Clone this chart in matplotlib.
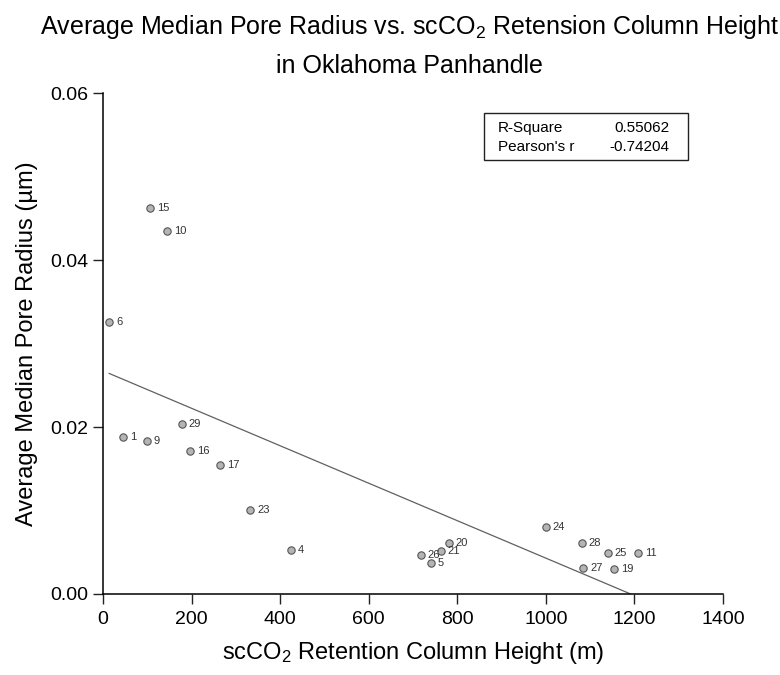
import numpy as np
import matplotlib.pyplot as plt
from matplotlib.patches import Rectangle

plt.rcParams['font.family'] = ['Liberation Sans', 'DejaVu Sans']
plt.rcParams['mathtext.default'] = 'regular'

# sample id, scCO2 retention column height (m), average median pore radius (um)
sample_ids = ['15', '10', '6', '1', '9', '29', '16', '17', '23', '4',
              '26', '5', '21', '20', '24', '28', '27', '25', '19', '11']
column_height = [106, 144, 14, 45, 99, 178, 196, 264, 332, 424,
                 718, 740, 763, 781, 1000, 1081, 1084, 1140, 1154, 1208]
pore_radius = [0.0462, 0.0435, 0.0326, 0.0188, 0.0183, 0.0204, 0.0171, 0.0154, 0.0101, 0.0053,
               0.0047, 0.0037, 0.0051, 0.0061, 0.0080, 0.0061, 0.0031, 0.0049, 0.0030, 0.0049]

# fit statistics as reported
r_square = 0.55062
pearson_r = -0.74204

x_ticks = [0, 200, 400, 600, 800, 1000, 1200, 1400]
y_ticks = [0.00, 0.02, 0.04, 0.06]

x = np.array(column_height, dtype=float)
y = np.array(pore_radius)

# linear fit
slope, intercept = np.polyfit(x, y, 1)

fig = plt.figure(figsize=(7.8, 6.75), dpi=100)
ax = fig.add_axes([0.132, 0.12, 0.795, 0.742])

ax.scatter(x, y, s=28, facecolor='#b4b4b4', edgecolor='#555555', linewidth=0.8, zorder=3)
for sid, xi, yi in zip(sample_ids, x, y):
    ax.annotate(sid, (xi, yi), xytext=(5, 0), textcoords='offset points',
                fontsize=8, va='center', ha='left', color='#333333')

xf = np.array([x.min(), x.max()])
ax.plot(xf, slope * xf + intercept, color='#606060', linewidth=0.9, zorder=2)

ax.set_xlim(0, 1400)
ax.set_ylim(0, 0.06)
ax.set_xticks(x_ticks)
ax.set_yticks(y_ticks)
ax.set_xticklabels([str(t) for t in x_ticks])
ax.set_yticklabels(['%.2f' % t for t in y_ticks])
ax.tick_params(labelsize=14, length=7, width=1, direction='out', color='#222222')
ax.tick_params(axis='x', pad=5)
ax.spines['top'].set_visible(False)
ax.spines['right'].set_visible(False)
ax.spines['left'].set_linewidth(1.1)
ax.spines['bottom'].set_linewidth(1.1)

ax.set_xlabel('scCO$_2$ Retention Column Height (m)', fontsize=17, labelpad=9)
ax.set_ylabel('Average Median Pore Radius (\u00b5m)', fontsize=17, labelpad=9)

fig.text(0.525, 0.950, 'Average Median Pore Radius vs. scCO$_2$ Retension Column Height',
         fontsize=18, ha='center', va='baseline')
fig.text(0.525, 0.892, 'in Oklahoma Panhandle', fontsize=18, ha='center', va='baseline')

# stats box
box = Rectangle((0.6205, 0.763), 0.2615, 0.070, transform=fig.transFigure,
                fill=False, edgecolor='#222222', linewidth=1.0)
fig.add_artist(box)
fig.text(0.638, 0.810, 'R-Square', fontsize=11, va='center')
fig.text(0.638, 0.782, "Pearson's r", fontsize=11, va='center')
fig.text(0.858, 0.810, '%.5f' % r_square, fontsize=11, va='center', ha='right')
fig.text(0.858, 0.782, '%.5f' % pearson_r, fontsize=11, va='center', ha='right')

fig.savefig('out.png', dpi=100)
